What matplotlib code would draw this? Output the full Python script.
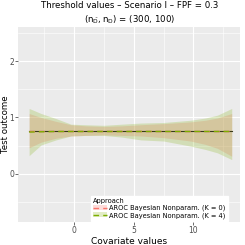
import numpy as np
import matplotlib
matplotlib.use("Agg")
import matplotlib.pyplot as plt
from matplotlib.ticker import MultipleLocator
from matplotlib.lines import Line2D
from matplotlib.patches import Patch

# Data
x = [-3.75, -2.75, -1.5, -0.25, 1.0, 2.5, 4.0, 5.6, 7.5, 9.75, 11.0, 12.0, 13.2]
true_thr = [0.755] * len(x)
k0_mean = [0.755, 0.755, 0.755, 0.755, 0.755, 0.755, 0.755, 0.755, 0.755, 0.755, 0.755, 0.755, 0.755]
k0_low = [0.46, 0.56, 0.63, 0.67, 0.68, 0.69, 0.68, 0.67, 0.64, 0.58, 0.52, 0.45, 0.31]
k0_up = [1.07, 1.00, 0.93, 0.87, 0.85, 0.84, 0.85, 0.87, 0.89, 0.92, 0.95, 0.99, 1.07]
k4_mean = [0.74, 0.745, 0.75, 0.75, 0.75, 0.75, 0.75, 0.75, 0.75, 0.75, 0.75, 0.75, 0.75]
k4_low = [0.32, 0.51, 0.60, 0.67, 0.68, 0.68, 0.65, 0.60, 0.58, 0.49, 0.43, 0.37, 0.25]
k4_up = [1.16, 1.07, 0.98, 0.88, 0.87, 0.86, 0.88, 0.90, 0.91, 0.95, 0.99, 1.04, 1.16]
labels = ["AROC Bayesian Nonparam. (K = 0)", "AROC Bayesian Nonparam. (K = 4)"]

c0 = "#F8766D"
c4 = "#7CAE00"

fig = plt.figure(figsize=(2.45, 2.45), dpi=100)
ax = fig.add_axes([0.075, 0.094, 0.905, 0.796])
ax.set_facecolor("#EBEBEB")
for s in ax.spines.values():
    s.set_visible(False)

ax.fill_between(x, k0_low, k0_up, color=c0, alpha=0.25, lw=0)
ax.fill_between(x, k4_low, k4_up, color=c4, alpha=0.22, lw=0)
ax.plot(x, true_thr, color="#3a3a1a", lw=0.8)
ax.plot(x, k0_mean, color=c0, lw=1.0, ls=(0, (4, 3)))
ax.plot(x, k4_mean, color=c4, lw=1.0, ls=(0, (4, 3)))

ax.set_xlim(-4.65, 13.9)
ax.set_ylim(-0.86, 2.61)
ax.xaxis.set_major_locator(MultipleLocator(5))
ax.xaxis.set_minor_locator(MultipleLocator(2.5))
ax.yaxis.set_major_locator(MultipleLocator(1))
ax.yaxis.set_minor_locator(MultipleLocator(0.5))
ax.grid(which="major", color="white", lw=0.8)
ax.grid(which="minor", color="white", lw=0.4)
ax.set_axisbelow(True)
ax.tick_params(which="major", length=2, width=0.5, color="#333333", labelsize=5.5, labelcolor="#4D4D4D", pad=1)
ax.tick_params(which="minor", length=0)

ax.set_xlabel("Covariate values", fontsize=6.5, labelpad=1)
ax.set_ylabel("Test outcome", fontsize=6.2)
ax.yaxis.set_label_coords(-0.038, 0.5)
ax.set_title("Threshold values – Scenario I – FPF = 0.3\n" + r"$(\mathrm{n}_{\bar{\mathrm{D}}}, \mathrm{n}_{\mathrm{D}})$ = (300, 100)",
             fontsize=6.2, pad=3, linespacing=1.4)

handles = [
    (Patch(facecolor=c0, alpha=0.25, lw=0), Line2D([], [], color=c0, lw=1.0, ls=(0, (4, 3)))),
    (Patch(facecolor=c4, alpha=0.22, lw=0), Line2D([], [], color=c4, lw=1.0, ls=(0, (4, 3)))),
]
leg = ax.legend(handles, labels, title="Approach", loc="lower left",
                bbox_to_anchor=(0.32, 0.0), fontsize=4.8, title_fontsize=4.8,
                frameon=True, fancybox=False, edgecolor="white", facecolor="white",
                framealpha=1, handlelength=2.2, handletextpad=0.3, borderpad=0.3,
                labelspacing=0.1, borderaxespad=0.2)
leg._legend_box.align = "left"

fig.savefig("out.png", dpi=100)
